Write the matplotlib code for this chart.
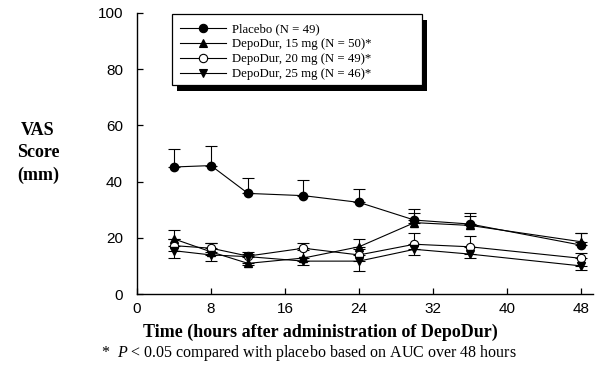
import matplotlib
matplotlib.use("Agg")
import matplotlib.pyplot as plt
from matplotlib.patches import Rectangle
from matplotlib.lines import Line2D

# --- DATA ---
hours = [4, 8, 12, 18, 24, 30, 36, 48]

placebo = [45.2, 45.7, 35.8, 35.0, 32.6, 26.3, 24.9, 17.4]
placebo_err = [6.3, 7.0, 5.4, 5.5, 4.7, 3.8, 3.8, 4.2]

dd15 = [19.6, 15.0, 10.9, 12.8, 16.8, 25.4, 24.4, 18.6]
dd15_err = [3.0, 3.0, 3.5, 3.0, 2.7, 3.5, 3.5, 3.0]

dd20 = [17.2, 16.3, 13.5, 16.3, 13.9, 17.7, 16.8, 12.7]
dd20_err = [2.5, 2.0, 1.5, 2.0, 2.0, 3.9, 3.9, 1.8]

dd25 = [15.4, 13.9, 13.3, 11.7, 11.7, 15.9, 14.2, 10.0]
dd25_err = [2.5, 2.0, 3.0, 1.4, 3.5, 2.0, 1.5, 1.5]

labels = ["Placebo (N = 49)",
          "DepoDur, 15 mg (N = 50)*",
          "DepoDur, 20 mg (N = 49)*",
          "DepoDur, 25 mg (N = 46)*"]

x_ticks = [0, 8, 16, 24, 32, 40, 48]
y_ticks = [0, 20, 40, 60, 80, 100]

# --- FIGURE ---
plt.rcParams['mathtext.fontset'] = 'custom'
plt.rcParams['mathtext.rm'] = 'Liberation Serif'
plt.rcParams['mathtext.it'] = 'Liberation Serif:italic'

W, H = 614, 375
fig = plt.figure(figsize=(W / 100, H / 100), dpi=100)
ax = fig.add_axes([137 / W, 1 - 294 / H, (593 - 137) / W, (294 - 13) / H])

zeros = [0] * len(hours)
common = dict(color='black', lw=0.8, capsize=4.5, capthick=0.8, elinewidth=0.8)
styles = [dict(marker='o', mfc='black'),
          dict(marker='^', mfc='black'),
          dict(marker='o', mfc='white'),
          dict(marker='v', mfc='black')]

# upward error bars for placebo, 15 mg and 20 mg; downward for 25 mg
ax.errorbar(hours, placebo, yerr=[zeros, placebo_err], ms=6, mec='black',
            zorder=4, **styles[0], **common)
ax.errorbar(hours, dd15, yerr=[zeros, dd15_err], ms=6, mec='black',
            zorder=3, **styles[1], **common)
ax.errorbar(hours, dd20, yerr=[zeros, dd20_err], ms=6, mec='black', mew=0.8,
            zorder=3, **styles[2], **common)
ax.errorbar(hours, dd25, yerr=[dd25_err, zeros], ms=6, mec='black',
            zorder=3, **styles[3], **common)

ax.set_xlim(0, 49.3)
ax.set_ylim(0, 100)
ax.set_xticks(x_ticks)
ax.set_yticks(y_ticks)
ax.spines['top'].set_visible(False)
ax.spines['right'].set_visible(False)
for s in ['left', 'bottom']:
    ax.spines[s].set_linewidth(1.0)
ax.tick_params(axis='both', direction='in', length=4, width=0.9,
               labelsize=11, colors='black')
ax.tick_params(axis='y', pad=10)
ax.tick_params(axis='x', pad=6)
for t in ax.get_xticklabels() + ax.get_yticklabels():
    t.set_family('Liberation Sans')

# y label, horizontal three lines
fig.text(38 / W, 1 - 153 / H, "VAS\nScore\n(mm)", ha='center', va='center',
         family='Liberation Serif', weight='bold', fontsize=13, linespacing=1.4)

# x label
fig.text(320 / W, 1 - 332 / H, "Time (hours after administration of DepoDur)",
         ha='center', va='center', family='Liberation Serif', weight='bold',
         fontsize=13)

# footnote
fig.text(101 / W, 1 - 353 / H,
         r"*  $P$ < 0.05 compared with placebo based on AUC over 48 hours",
         ha='left', va='center', family='Liberation Serif', fontsize=11.5)

# legend (line + marker only) with a heavy drop shadow
handles = [Line2D([], [], color='black', lw=0.8, ms=6, mec='black', mew=0.8, **st)
           for st in styles]
leg = ax.legend(handles, labels, loc='upper left',
                bbox_to_anchor=(180 / W, 1 - 23 / H),
                bbox_transform=fig.transFigure, frameon=False,
                prop={'family': 'Liberation Serif', 'size': 9.2},
                handlelength=3.6, handletextpad=0.45, labelspacing=0.24,
                borderpad=0, borderaxespad=0)
fig.add_artist(Rectangle((177 / W, 1 - 91 / H), 250 / W, 71 / H,
                         transform=fig.transFigure, facecolor='black',
                         edgecolor='none', zorder=5))
fig.add_artist(Rectangle((172 / W, 1 - 85 / H), 250 / W, 71 / H,
                         transform=fig.transFigure, facecolor='white',
                         edgecolor='black', lw=0.9, zorder=5.5))
leg.set_zorder(6)
fig.add_artist(leg)

fig.savefig("out.png", dpi=100)
